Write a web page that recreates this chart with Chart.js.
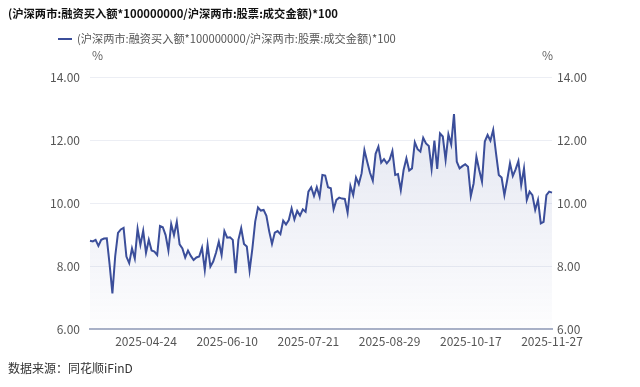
<!DOCTYPE html>
<html>
<head>
<meta charset="utf-8">
<script src="https://cdn.jsdelivr.net/npm/chart.js@4.4.1/dist/chart.umd.min.js"></script>
<style>
  html,body{margin:0;padding:0;background:#fff;}
  body{width:640px;height:387px;position:relative;overflow:hidden;font-family:"Noto Sans CJK SC","Noto Sans",sans-serif;}
  #c{position:absolute;left:0;top:0;}
  .t{position:absolute;white-space:nowrap;line-height:16px;}
  #title{left:8px;top:5px;font-size:11.3px;font-weight:bold;color:#111;}
  #legend{left:58px;top:30px;font-size:11.2px;color:#555;}
  #legend .mk{display:inline-block;width:14px;height:2px;background:#3b4e9a;vertical-align:middle;margin-right:5px;position:relative;top:-1px;}
  #uL{left:92px;top:47px;font-size:12px;color:#666;}
  #uR{left:542px;top:47px;font-size:12px;color:#666;}
  #foot{left:8px;top:360px;font-size:12px;color:#333;}
</style>
</head>
<body>
<canvas id="c" width="640" height="387"></canvas>
<div class="t" id="title">(沪深两市:融资买入额*100000000/沪深两市:股票:成交金额)*100</div>
<div class="t" id="legend"><span class="mk"></span>(沪深两市:融资买入额*100000000/沪深两市:股票:成交金额)*100</div>
<div class="t" id="uL">%</div>
<div class="t" id="uR">%</div>
<div class="t" id="foot">数据来源：同花顺iFinD</div>
<script>
const dates = [
"2025-03-26","2025-03-27","2025-03-28","2025-03-31",
"2025-04-01","2025-04-02","2025-04-03","2025-04-07","2025-04-08","2025-04-09","2025-04-10","2025-04-11",
"2025-04-14","2025-04-15","2025-04-16","2025-04-17","2025-04-18","2025-04-21","2025-04-22","2025-04-23",
"2025-04-24","2025-04-25","2025-04-28","2025-04-29","2025-04-30",
"2025-05-06","2025-05-07","2025-05-08","2025-05-09","2025-05-12","2025-05-13","2025-05-14","2025-05-15","2025-05-16",
"2025-05-19","2025-05-20","2025-05-21","2025-05-22","2025-05-23","2025-05-26","2025-05-27","2025-05-28","2025-05-29","2025-05-30",
"2025-06-03","2025-06-04","2025-06-05","2025-06-06","2025-06-09","2025-06-10","2025-06-11","2025-06-12","2025-06-13",
"2025-06-16","2025-06-17","2025-06-18","2025-06-19","2025-06-20","2025-06-23","2025-06-24","2025-06-25","2025-06-26","2025-06-27","2025-06-30",
"2025-07-01","2025-07-02","2025-07-03","2025-07-04","2025-07-07","2025-07-08","2025-07-09","2025-07-10","2025-07-11",
"2025-07-14","2025-07-15","2025-07-16","2025-07-17","2025-07-18","2025-07-21","2025-07-22","2025-07-23","2025-07-24","2025-07-25",
"2025-07-28","2025-07-29","2025-07-30","2025-07-31",
"2025-08-01","2025-08-04","2025-08-05","2025-08-06","2025-08-07","2025-08-08","2025-08-11","2025-08-12","2025-08-13","2025-08-14","2025-08-15",
"2025-08-18","2025-08-19","2025-08-20","2025-08-21","2025-08-22","2025-08-25","2025-08-26","2025-08-27","2025-08-28","2025-08-29",
"2025-09-01","2025-09-02","2025-09-03","2025-09-04","2025-09-05","2025-09-08","2025-09-09","2025-09-10","2025-09-11","2025-09-12",
"2025-09-15","2025-09-16","2025-09-17","2025-09-18","2025-09-19","2025-09-22","2025-09-23","2025-09-24","2025-09-25","2025-09-26",
"2025-09-29","2025-09-30",
"2025-10-09","2025-10-10","2025-10-13","2025-10-14","2025-10-15","2025-10-16","2025-10-17",
"2025-10-20","2025-10-21","2025-10-22","2025-10-23","2025-10-24","2025-10-27","2025-10-28","2025-10-29","2025-10-30","2025-10-31",
"2025-11-03","2025-11-04","2025-11-05","2025-11-06","2025-11-07","2025-11-10","2025-11-11","2025-11-12","2025-11-13","2025-11-14",
"2025-11-17","2025-11-18","2025-11-19","2025-11-20","2025-11-21","2025-11-24","2025-11-25","2025-11-26","2025-11-27"
];
const ratio = [
8.80,8.78,8.83,8.64,8.83,8.87,8.88,8.05,7.13,8.31,
9.05,9.16,9.21,8.30,8.09,8.56,8.24,9.18,8.67,9.12,
8.42,8.83,8.49,8.46,8.35,9.27,9.23,8.98,8.49,9.33,
8.98,9.40,8.69,8.56,8.27,8.49,8.32,8.19,8.27,8.30,
8.58,7.87,8.67,7.98,8.14,8.42,8.77,8.35,9.11,8.90,
8.91,8.83,7.77,8.83,9.20,8.70,8.62,7.85,8.56,9.41,
9.86,9.76,9.78,9.59,9.10,8.70,9.06,9.11,9.01,9.44,
9.32,9.46,9.83,9.48,9.75,9.60,9.80,9.72,10.36,10.50,
10.22,10.50,10.20,10.89,10.87,10.50,10.47,9.80,10.10,10.17,
10.14,10.13,9.69,10.54,10.25,10.81,10.60,10.94,11.68,11.31,
10.96,10.71,11.56,11.79,11.28,11.39,11.26,11.37,11.65,10.89,
10.92,10.41,11.05,11.42,11.03,11.10,11.93,11.71,11.63,12.07,
11.89,11.81,11.08,11.98,11.08,12.21,12.11,11.37,12.18,11.86,
12.82,11.31,11.10,11.17,11.23,11.15,10.22,10.62,11.47,11.05,
10.68,11.95,12.16,11.98,12.32,11.58,10.89,10.81,10.25,10.73,
11.26,10.86,11.07,11.33,10.57,11.10,10.10,10.36,10.25,9.78,
10.10,9.35,9.40,10.25,10.36,10.33
];
const yMin = 6, yMax = 14, yStep = 2;
const tickEvery = 29;

const FONT = '"Noto Sans CJK SC","Noto Sans",sans-serif';
const n = dates.length;

new Chart(document.getElementById('c'), {
  type: 'line',
  data: {
    labels: dates,
    datasets: [{
      data: ratio,
      borderColor: '#3b4e9a',
      borderWidth: 2,
      pointRadius: 0,
      tension: 0,
      fill: 'start',
      backgroundColor: (c) => {
        const {ctx, chartArea} = c.chart;
        if (!chartArea) return 'rgba(59,78,154,0.08)';
        const g = ctx.createLinearGradient(0, chartArea.top, 0, chartArea.bottom);
        g.addColorStop(0, 'rgba(59,78,154,0.16)');
        g.addColorStop(1, 'rgba(59,78,154,0.01)');
        return g;
      }
    }]
  },
  options: {
    responsive: false,
    animation: false,
    devicePixelRatio: 1,
    layout: { padding: { top: 77, left: 0, right: 0, bottom: 0 } },
    plugins: { legend: { display: false }, title: { display: false }, tooltip: { enabled: false } },
    scales: {
      x: {
        type: 'category',
        grid: { display: false, drawTicks: false },
        border: { color: '#a9b1c7', width: 2 },
        ticks: {
          autoSkip: false, maxRotation: 0, minRotation: 0, padding: 5,
          color: '#555', font: { size: 12, family: FONT },
          callback: function(v, i) { return ((n - 1 - i) % tickEvery === 0) ? this.getLabelForValue(v) : null; }
        },
        afterFit: (s) => { s.height = 58; }
      },
      y: {
        position: 'left', min: yMin, max: yMax,
        grid: { color: '#eceef4', drawTicks: false },
        border: { display: false },
        ticks: { stepSize: yStep, padding: 10, color: '#555', font: { size: 12, family: FONT }, callback: (v) => Number(v).toFixed(2) },
        afterFit: (s) => { s.width = 90; }
      },
      y2: {
        position: 'right', min: yMin, max: yMax,
        grid: { display: false, drawTicks: false },
        border: { display: false },
        ticks: { stepSize: yStep, padding: 5, color: '#555', font: { size: 12, family: FONT }, callback: (v) => Number(v).toFixed(2) },
        afterFit: (s) => { s.width = 88; }
      }
    }
  }
});
</script>
</body>
</html>
